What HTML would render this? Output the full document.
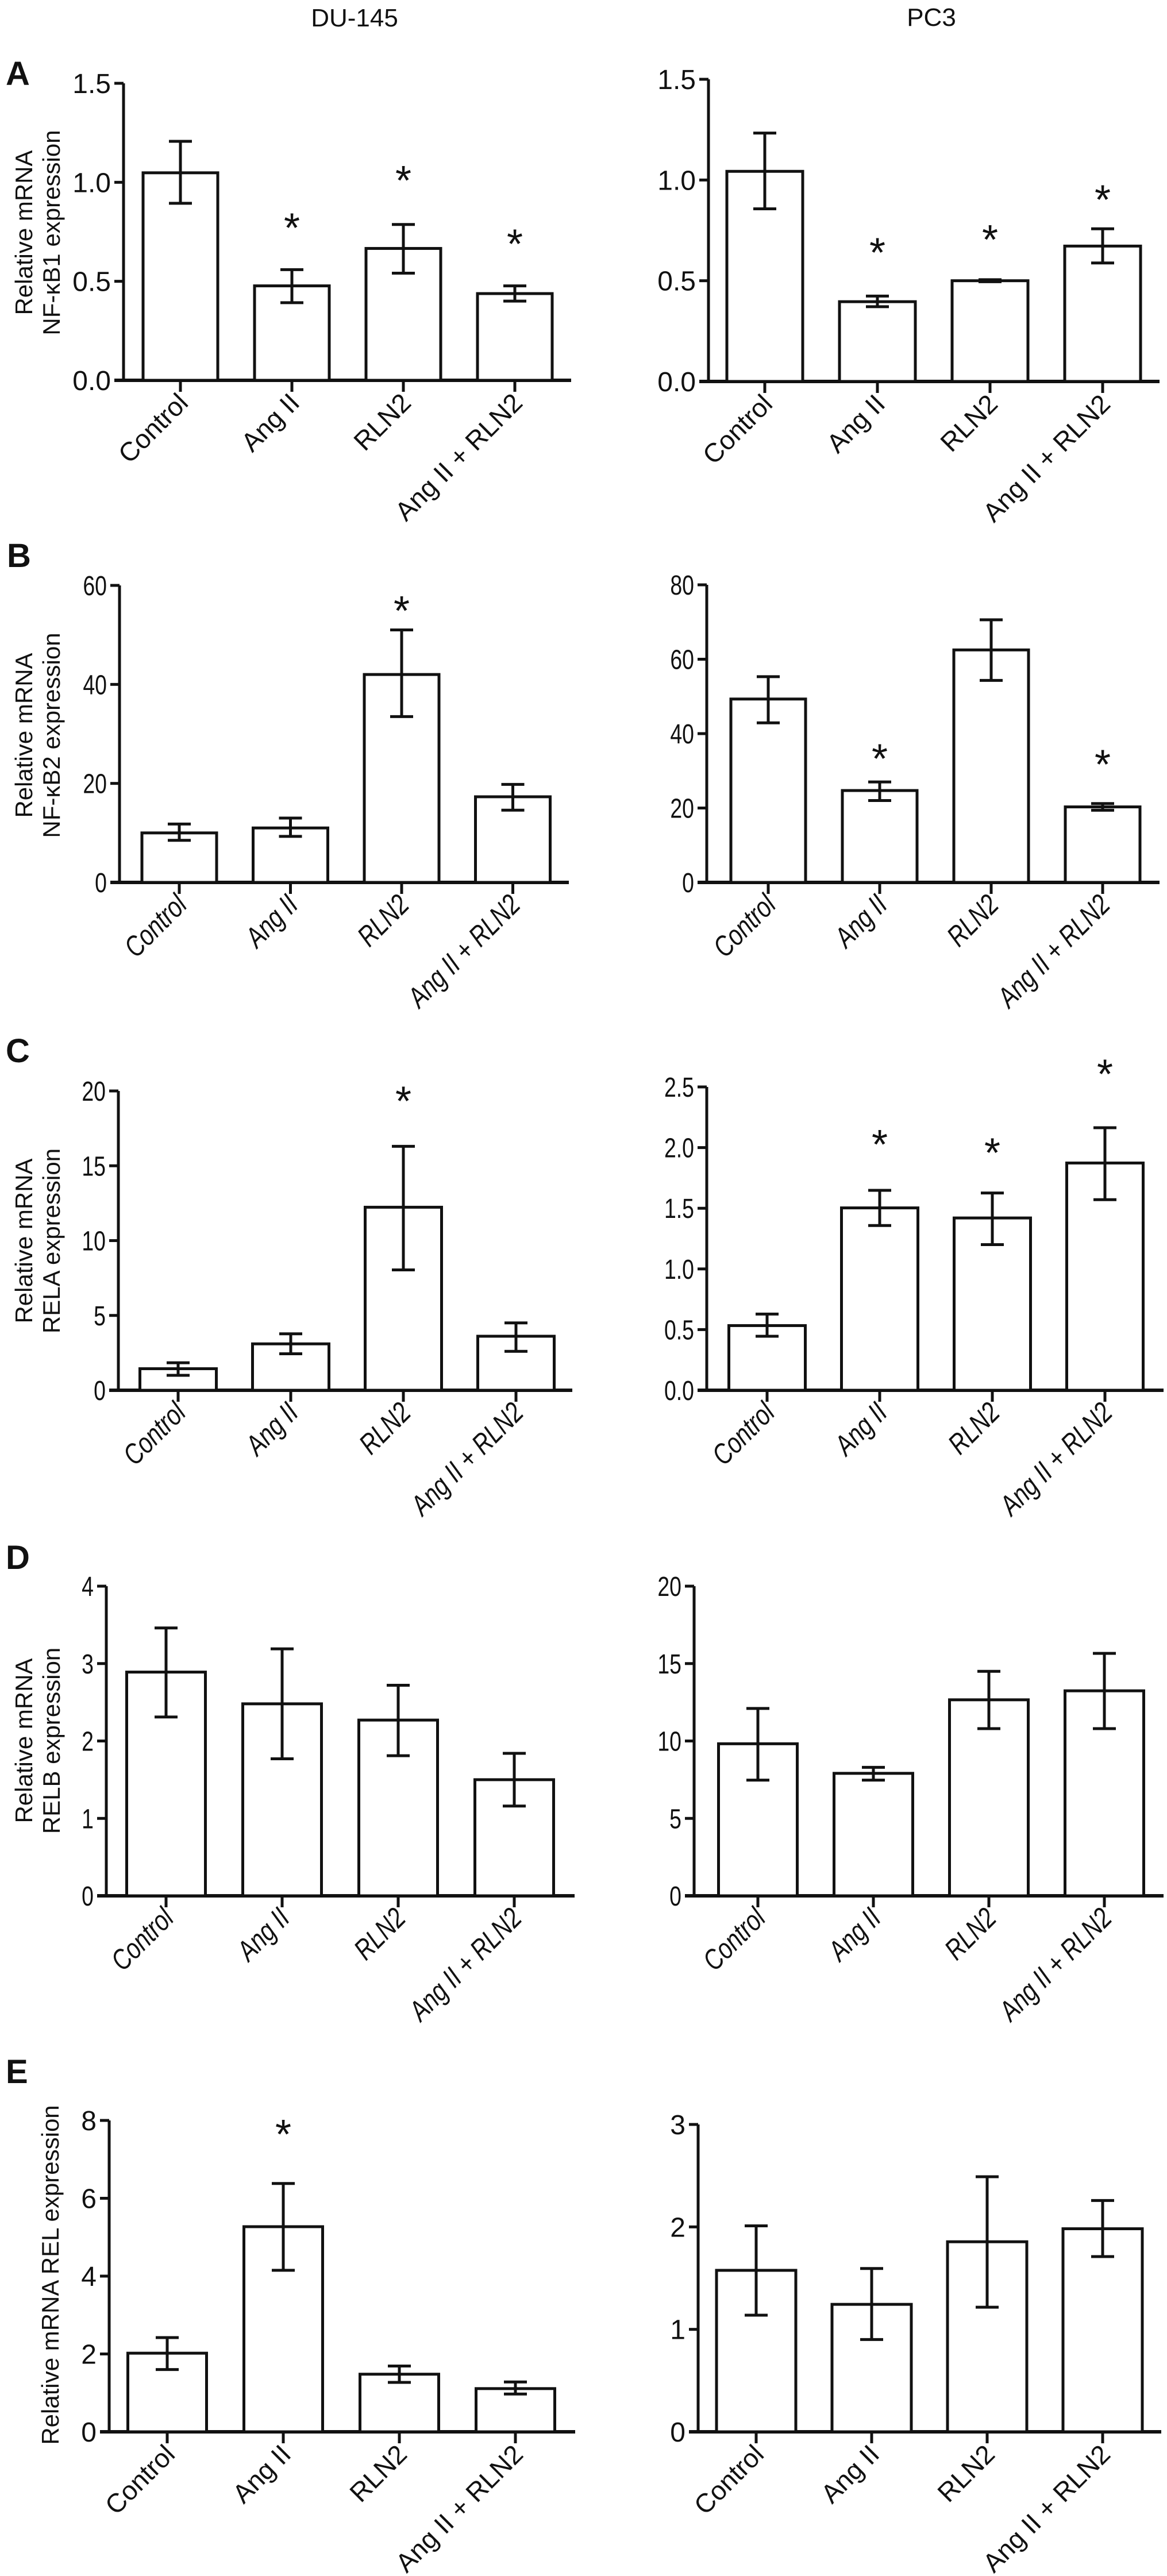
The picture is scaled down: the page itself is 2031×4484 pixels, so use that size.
<!DOCTYPE html>
<html><head><meta charset="utf-8"><style>
html,body{margin:0;padding:0;background:#fff;}
svg{display:block;}
text{font-family:"Liberation Sans",Arial,sans-serif;fill:#111;}
</style></head><body>
<svg id="fig" xmlns="http://www.w3.org/2000/svg" width="2031" height="4484" viewBox="0 0 2031 4484">
<text x="617" y="46" font-size="44" text-anchor="middle">DU-145</text>
<text x="1621" y="45" font-size="44" text-anchor="middle">PC3</text>
<text x="10" y="148" font-size="58" font-weight="bold">A</text>
<text x="12" y="987" font-size="58" font-weight="bold">B</text>
<text x="10" y="1849" font-size="58" font-weight="bold">C</text>
<text x="10" y="2731" font-size="58" font-weight="bold">D</text>
<text x="10" y="3626" font-size="58" font-weight="bold">E</text>
</svg>
<script>
const categories = ["Control","Ang II","RLN2","Ang II + RLN2"];

const aLeftTicks = [0,0.5,1.0,1.5];
const aLeftVals = [1.048,0.477,0.666,0.438];
const aLeftHi = [1.207,0.559,0.787,0.477];
const aLeftLo = [0.894,0.392,0.541,0.400];
const aLeftStars = [null,0.79,1.03,0.71];

const aRightTicks = [0,0.5,1.0,1.5];
const aRightVals = [1.043,0.396,0.500,0.672];
const aRightHi = [1.233,0.424,0.505,0.758];
const aRightLo = [0.857,0.371,0.495,0.588];
const aRightStars = [null,0.66,0.725,0.923];

const bLeftTicks = [0,20,40,60];
const bLeftVals = [10.0,11.0,42.0,17.3];
const bLeftHi = [11.8,13.0,51.0,19.8];
const bLeftLo = [8.5,9.3,33.5,14.6];
const bLeftStars = [null,null,55.7,null];

const bRightTicks = [0,20,40,60,80];
const bRightVals = [49.3,24.7,62.5,20.3];
const bRightHi = [55.3,27.0,70.6,21.2];
const bRightLo = [42.9,22.0,54.3,19.4];
const bRightStars = [null,34.4,null,32.8];

const cLeftTicks = [0,5,10,15,20];
const cLeftVals = [1.44,3.10,12.23,3.61];
const cLeftHi = [1.84,3.77,16.3,4.5];
const cLeftLo = [1.0,2.44,8.04,2.6];
const cLeftStars = [null,null,19.6,null];

const cRightTicks = [0,0.5,1.0,1.5,2.0,2.5];
const cRightVals = [0.533,1.503,1.42,1.873];
const cRightHi = [0.628,1.648,1.626,2.164];
const cRightLo = [0.445,1.358,1.20,1.571];
const cRightStars = [null,2.06,1.99,2.64];

const dLeftTicks = [0,1,2,3,4];
const dLeftVals = [2.89,2.48,2.27,1.50];
const dLeftHi = [3.46,3.19,2.72,1.84];
const dLeftLo = [2.31,1.77,1.81,1.16];
const dLeftStars = [null,null,null,null];

const dRightTicks = [0,5,10,15,20];
const dRightVals = [9.82,7.91,12.66,13.24];
const dRightHi = [12.1,8.3,14.5,15.66];
const dRightLo = [7.47,7.47,10.8,10.8];
const dRightStars = [null,null,null,null];

const eLeftTicks = [0,2,4,6,8];
const eLeftVals = [2.02,5.27,1.48,1.11];
const eLeftHi = [2.42,6.38,1.69,1.28];
const eLeftLo = [1.60,4.15,1.27,0.97];
const eLeftStars = [null,7.75,null,null];

const eRightTicks = [0,1,2,3];
const eRightVals = [1.576,1.244,1.855,1.982];
const eRightHi = [2.01,1.594,2.49,2.258];
const eRightLo = [1.138,0.901,1.216,1.71];
const eRightStars = [null,null,null,null];

const NS = "http://www.w3.org/2000/svg";
const svg = document.getElementById("fig");
function mk(tag, attrs, parent){
  const e = document.createElementNS(NS, tag);
  for (const k in attrs) e.setAttribute(k, attrs[k]);
  (parent||svg).appendChild(e);
  return e;
}

function panel(id, L, ticks, vals, hi, lo, stars, decimals){
  const g = mk("g", {});
  
  
  const maxV = ticks[ticks.length-1];
  const y = v => L.yZero - (v/maxV)*(L.yZero-L.yTop);
  const x = i => L.t0 + i*L.sp;
  const ya = mk("line", {x1:L.ax, y1:L.yTop, x2:L.ax, y2:L.yZero, stroke:"#111", "stroke-width":5}, g);
  
  
  ticks.forEach(t => {
    const ty = y(t);
    const tk = mk("line", {x1:L.ax-16, y1:ty, x2:L.ax, y2:ty, stroke:"#111", "stroke-width":5}, g);
    
    
    const lbl = decimals ? t.toFixed(decimals) : String(t);
    const tx = mk("text", {"font-size":48, "text-anchor":"end",
      transform:"translate(" + (L.ax-22) + "," + (ty+17) + ") scale(" + (L.narrow?0.78:1) + ",1)"}, g);
    tx.textContent = lbl;
    
    
  });
  const xa = mk("line", {x1:L.ax-16, y1:L.yZero, x2:L.xEnd, y2:L.yZero, stroke:"#111", "stroke-width":6}, g);
  
  
  categories.forEach((c,i) => {
    const cx = x(i);
    const v = vals[i];
    const bar = mk("rect", {x:cx-L.bw/2, y:y(v), width:L.bw, height:L.yZero-y(v), fill:"#fff", stroke:"#111", "stroke-width":5}, g);
    
    
    const eg = mk("g", {stroke:"#111", "stroke-width":5}, g);
    
    
    mk("line", {x1:cx, y1:y(hi[i]), x2:cx, y2:y(lo[i])}, eg);
    mk("line", {x1:cx-20, y1:y(hi[i]), x2:cx+20, y2:y(hi[i])}, eg);
    mk("line", {x1:cx-20, y1:y(lo[i]), x2:cx+20, y2:y(lo[i])}, eg);
    const xt = mk("line", {x1:cx, y1:L.yZero, x2:cx, y2:L.yZero+20, stroke:"#111", "stroke-width":5}, g);
    
    
    const lt = mk("text", {"font-size": L.narrow ? 50 : 46, "text-anchor":"end",
      "font-style": L.narrow ? "italic" : "normal",
      transform:"translate(" + (cx+16) + "," + (L.yZero+42) + ") rotate(-45) scale(" + (L.narrow?0.8:1) + ",1)"}, g);
    lt.textContent = c;
    
    
    if (stars[i] !== null) {
      const st = mk("text", {x:cx, y:y(stars[i])+32, "font-size":72, "text-anchor":"middle"}, g);
      st.textContent = "*";
      
      
    }
  });
}

function ylabel(id, lines, yCenter, xs){
  lines.forEach((ln,k) => {
    const t = mk("text", {"font-size":42, "text-anchor":"middle", transform:"translate(" + xs[k] + "," + yCenter + ") rotate(-90)"});
    t.textContent = ln;
    
    
  });
}

panel("a-left", {ax:215,yTop:145,yZero:662,t0:314,sp:194,bw:130,xEnd:994,narrow:false}, aLeftTicks, aLeftVals, aLeftHi, aLeftLo, aLeftStars, 1);
panel("a-right", {ax:1233,yTop:138,yZero:664,t0:1331,sp:196,bw:132,xEnd:2018,narrow:false}, aRightTicks, aRightVals, aRightHi, aRightLo, aRightStars, 1);
panel("b-left", {ax:208,yTop:1019,yZero:1536,t0:312,sp:193.5,bw:130,xEnd:990,narrow:true}, bLeftTicks, bLeftVals, bLeftHi, bLeftLo, bLeftStars, 0);
panel("b-right", {ax:1230,yTop:1018,yZero:1536,t0:1337,sp:194,bw:130,xEnd:2018,narrow:true}, bRightTicks, bRightVals, bRightHi, bRightLo, bRightStars, 0);
panel("c-left", {ax:206,yTop:1899,yZero:2420,t0:310,sp:196,bw:133,xEnd:996,narrow:true}, cLeftTicks, cLeftVals, cLeftHi, cLeftLo, cLeftStars, 0);
panel("c-right", {ax:1230,yTop:1892,yZero:2420,t0:1335,sp:196,bw:133,xEnd:2025,narrow:true}, cRightTicks, cRightVals, cRightHi, cRightLo, cRightStars, 1);
panel("d-left", {ax:185,yTop:2761,yZero:3300,t0:289,sp:202,bw:137,xEnd:1000,narrow:true}, dLeftTicks, dLeftVals, dLeftHi, dLeftLo, dLeftStars, 0);
panel("d-right", {ax:1208,yTop:2761,yZero:3300,t0:1319,sp:201,bw:137,xEnd:2025,narrow:true}, dRightTicks, dRightVals, dRightHi, dRightLo, dRightStars, 0);
panel("e-left", {ax:190,yTop:3691,yZero:4233,t0:291,sp:202,bw:137,xEnd:1001,narrow:false}, eLeftTicks, eLeftVals, eLeftHi, eLeftLo, eLeftStars, 0);
panel("e-right", {ax:1215,yTop:3698,yZero:4233,t0:1316,sp:201,bw:138,xEnd:2021,narrow:false}, eRightTicks, eRightVals, eRightHi, eRightLo, eRightStars, 0);

ylabel("a", ["Relative mRNA","NF-\u03BAB1 expression"], 405, [56,104]);
ylabel("b", ["Relative mRNA","NF-\u03BAB2 expression"], 1280, [56,104]);
ylabel("c", ["Relative mRNA","RELA expression"], 2160, [56,104]);
ylabel("d", ["Relative mRNA","RELB expression"], 3030, [56,104]);
ylabel("e", ["Relative mRNA REL expression"], 3960, [102]);
</script>
</body></html>
